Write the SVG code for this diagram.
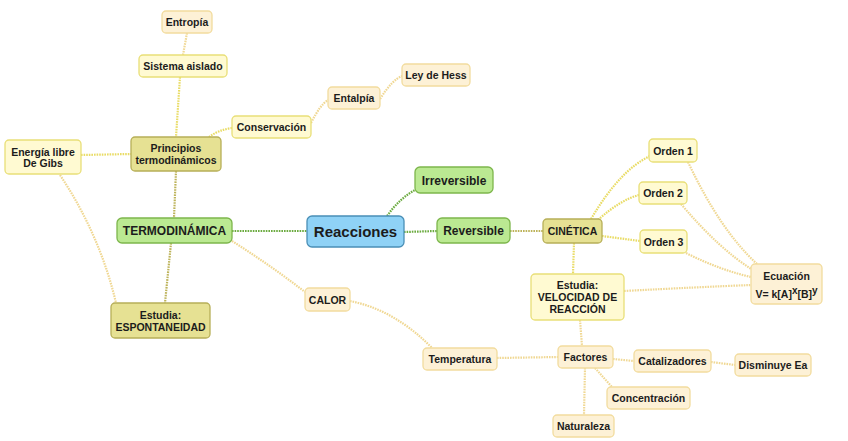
<svg xmlns="http://www.w3.org/2000/svg" width="848" height="441" viewBox="0 0 848 441">
<style>
text{font-family:"Liberation Sans",Arial,sans-serif;font-weight:bold;fill:#1c1c1c;text-anchor:middle;font-size:10.5px}
rect{stroke-width:1.3}
.pe rect{fill:#fdf1d6;stroke:#f2dc9e}
.ye rect{fill:#fffad2;stroke:#e9df78}
.ol rect{fill:#e6e193;stroke:#b7af58}
.gr rect{fill:#bbe992;stroke:#7db64c}
.bl rect{fill:#8fd2f6;stroke:#4a8fb6}
#connectors path{fill:none;stroke-width:2.2;stroke-dasharray:1.6 1}
.cg{stroke:#6cab40}
.co{stroke:#bdb35a}
.cy{stroke:#e9dc66}
.cp{stroke:#f0d894}
</style>
<g id="connectors">
<path class="cp" d="M187,33 L183,55"/>
<path class="cy" d="M180,77 L176,137"/>
<path class="cy" d="M209,137 Q218,130 232,128"/>
<path class="cp" d="M311,123 Q320,105 328,100"/>
<path class="cp" d="M380,99 Q392,80 402,76"/>
<path class="cy" d="M81,155 L131,154"/>
<path class="cp" d="M60,175 Q100,235 116,303"/>
<path class="co" d="M176,171 L174,218"/>
<path class="co" d="M171,243 L165,303"/>
<path class="cg" d="M232,231 L307,231"/>
<path class="cp" d="M232,241 Q270,265 305,292"/>
<path class="cg" d="M387,216 Q400,198 415,190"/>
<path class="cg" d="M404,232 L437,231"/>
<path class="co" d="M510,231 L543,231"/>
<path class="cy" d="M591,219 Q620,170 650,156"/>
<path class="cy" d="M598,220 Q620,200 639,195"/>
<path class="cy" d="M602,236 L640,241"/>
<path class="cy" d="M574,243 L573,274"/>
<path class="cp" d="M624,291 Q700,287 751,285"/>
<path class="cp" d="M688,162 Q720,230 757,264"/>
<path class="cp" d="M681,204 Q720,250 753,270"/>
<path class="cp" d="M686,253 Q720,270 751,277"/>
<path class="cp" d="M580,320 L582,346"/>
<path class="cp" d="M350,301 Q395,310 432,348"/>
<path class="cp" d="M497,358 L558,357"/>
<path class="cp" d="M613,359 L634,361"/>
<path class="cp" d="M711,362 L735,365"/>
<path class="cp" d="M595,368 L612,387"/>
<path class="cp" d="M585,368 L584,415"/>
</g>
<g id="entropia" class="pe"><rect x="162" y="11" width="50" height="22" rx="4"/><text x="187" y="26">Entropía</text></g>
<g id="sistema" class="ye"><rect x="139" y="55" width="88" height="22" rx="4"/><text x="183" y="70">Sistema aislado</text></g>
<g id="leyhess" class="pe"><rect x="402" y="64" width="68" height="22" rx="4"/><text x="436" y="79">Ley de Hess</text></g>
<g id="entalpia" class="pe"><rect x="328" y="87" width="52" height="22" rx="4"/><text x="354" y="102">Entalpía</text></g>
<g id="conservacion" class="ye"><rect x="232" y="116" width="79" height="22" rx="4"/><text x="271.5" y="131">Conservación</text></g>
<g id="principios" class="ol"><rect x="131" y="137" width="90" height="34" rx="4"/><text x="176" y="152">Principios</text><text x="176" y="164">termodinámicos</text></g>
<g id="gibbs" class="ye"><rect x="5" y="140" width="76" height="34" rx="4"/><text x="43" y="155.5">Energía libre</text><text x="43" y="167">De Gibs</text></g>
<g id="termodinamica" class="gr"><rect x="117" y="218" width="115" height="25" rx="5"/><text x="174.5" y="235" style="font-size:12px">TERMODINÁMICA</text></g>
<g id="espontaneidad" class="ol"><rect x="111" y="303" width="99" height="35" rx="4"/><text x="160.5" y="318.5">Estudia:</text><text x="160.5" y="330.5">ESPONTANEIDAD</text></g>
<g id="reacciones" class="bl"><rect x="307" y="216" width="97" height="31" rx="5"/><text x="355.5" y="237" style="font-size:15px">Reacciones</text></g>
<g id="irreversible" class="gr"><rect x="415" y="167" width="78" height="26" rx="5"/><text x="454" y="184.5" style="font-size:12px">Irreversible</text></g>
<g id="reversible" class="gr"><rect x="437" y="218" width="73" height="25" rx="5"/><text x="473.5" y="235" style="font-size:12px">Reversible</text></g>
<g id="calor" class="pe"><rect x="305" y="288" width="45" height="23" rx="4"/><text x="327.5" y="303.5">CALOR</text></g>
<g id="cinetica" class="ol"><rect x="543" y="219" width="59" height="24" rx="4"/><text x="572.5" y="235">CINÉTICA</text></g>
<g id="orden1" class="ye"><rect x="649" y="139" width="48" height="23" rx="4"/><text x="673" y="154.5">Orden 1</text></g>
<g id="orden2" class="ye"><rect x="639" y="182" width="48" height="22" rx="4"/><text x="663" y="197">Orden 2</text></g>
<g id="orden3" class="ye"><rect x="640" y="230" width="47" height="23" rx="4"/><text x="663.5" y="245.5">Orden 3</text></g>
<g id="velocidad" class="ye"><rect x="531" y="274" width="93" height="46" rx="4"/><text x="577.5" y="288.5">Estudia:</text><text x="577.5" y="300.5">VELOCIDAD DE</text><text x="577.5" y="312.5">REACCIÓN</text></g>
<g id="ecuacion" class="pe"><rect x="751" y="264" width="71" height="40" rx="4"/><text x="786.5" y="279.5">Ecuación</text><text x="786.5" y="298">V= k[A]<tspan dy="-4.5" style="font-size:10px">x</tspan><tspan dy="4.5">[B]</tspan><tspan dy="-4.5" style="font-size:10px">y</tspan></text></g>
<g id="temperatura" class="pe"><rect x="423" y="348" width="74" height="22" rx="4"/><text x="460" y="363">Temperatura</text></g>
<g id="factores" class="pe"><rect x="558" y="346" width="55" height="22" rx="4"/><text x="585.5" y="361">Factores</text></g>
<g id="catalizadores" class="pe"><rect x="634" y="350" width="77" height="22" rx="4"/><text x="672.5" y="365">Catalizadores</text></g>
<g id="disminuye" class="pe"><rect x="735" y="354" width="76" height="22" rx="4"/><text x="773" y="369">Disminuye Ea</text></g>
<g id="concentracion" class="pe"><rect x="607" y="387" width="83" height="22" rx="4"/><text x="648.5" y="402">Concentración</text></g>
<g id="naturaleza" class="pe"><rect x="553" y="415" width="61" height="22" rx="4"/><text x="583.5" y="430">Naturaleza</text></g>
</svg>
